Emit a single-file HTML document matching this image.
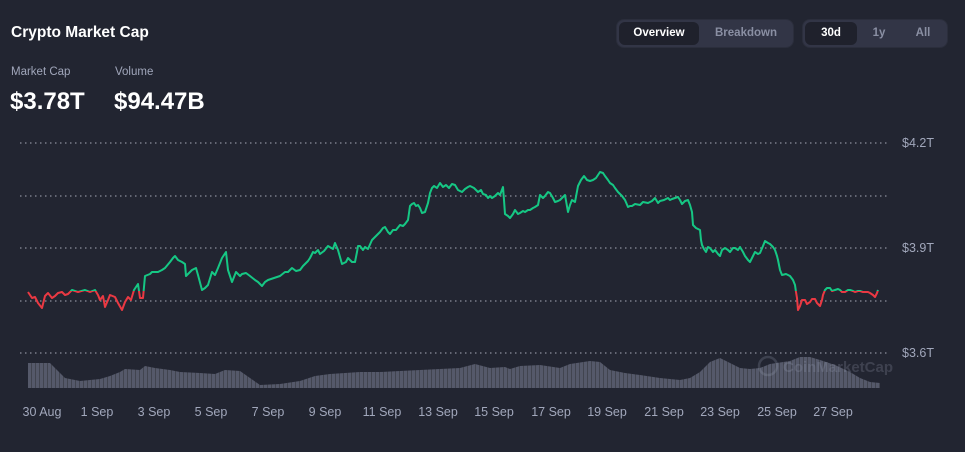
<!DOCTYPE html>
<html><head><meta charset="utf-8"><style>
body{margin:0;width:965px;height:452px;background:#222531;font-family:"Liberation Sans",sans-serif;overflow:hidden;position:relative;color:#fff}
.t{position:absolute;white-space:nowrap}
.grp{position:absolute;top:19px;height:29px;background:#323546;border-radius:8px;border:1px solid #2b2e3c;box-sizing:border-box}
.btn{position:absolute;top:2px;height:23px;line-height:23px;font-size:11.5px;font-weight:bold;text-align:center;color:#8a8fa3;border-radius:6px}
.on{background:#1f212c;color:#fff}
</style></head><body>
<div class="t" style="left:11px;top:24px;font-size:15.5px;font-weight:bold">Crypto Market Cap</div>
<div class="t" style="left:11px;top:66px;font-size:11.5px;color:#a1a7bb">Market Cap</div>
<div class="t" style="left:115px;top:66px;font-size:11.5px;color:#a1a7bb">Volume</div>
<div class="t" style="left:10px;top:88px;font-size:24px;font-weight:bold">$3.78T</div>
<div class="t" style="left:114px;top:88px;font-size:24px;font-weight:bold">$94.47B</div>
<div class="grp" style="left:616px;width:178px">
<div class="btn on" style="left:2px;width:80px">Overview</div>
<div class="btn" style="left:84px;width:90px">Breakdown</div></div>
<div class="grp" style="left:802px;width:146px">
<div class="btn on" style="left:2px;width:52px">30d</div>
<div class="btn" style="left:54px;width:44px">1y</div>
<div class="btn" style="left:98px;width:44px">All</div></div>
<svg width="965" height="452" style="position:absolute;left:0;top:0">
<defs>
<clipPath id="g"><rect x="0" y="0" width="965" height="291"/></clipPath>
<clipPath id="r"><rect x="0" y="291" width="965" height="200"/></clipPath>
<pattern id="st" width="4" height="10" patternUnits="userSpaceOnUse"><rect width="3" height="10" fill="#55596a"/><rect x="3" width="1" height="10" fill="#41444f"/></pattern>
</defs>
<g stroke="#8b8f9c" stroke-width="1.2" stroke-dasharray="1.5 3.5">
<line x1="20" x2="888" y1="143" y2="143"/><line x1="20" x2="888" y1="196" y2="196"/><line x1="20" x2="888" y1="248" y2="248"/><line x1="20" x2="888" y1="301" y2="301"/><line x1="20" x2="888" y1="353" y2="353"/></g>
<g font-size="12.5" fill="#a1a7bb" font-family="Liberation Sans,sans-serif">
<text x="902" y="147">$4.2T</text><text x="902" y="252">$3.9T</text><text x="902" y="357">$3.6T</text></g>
<polygon fill="url(#st)" points="28,388 28,363 50,363 55,368 65,378 80,381 100,379 110,376 120,372 125,369 140,370 145,366 155,368 170,370 180,372 200,373 215,374 225,370 240,371 250,378 260,385 280,384 300,381 315,376 330,374 345,373 360,372 380,372 400,371 420,370 440,369 460,368 475,364 490,368 505,367 510,369 520,366 540,365 560,368 570,364 590,361 600,362 610,370 625,373 640,375 660,378 680,380 690,378 700,372 710,362 720,358 730,363 740,368 750,369 760,368 770,364 790,361 800,357 810,357 820,360 835,365 850,372 860,378 870,382 880,383 880,388"/>
<g opacity="0.22" fill="none" stroke="#a1a7bb"><circle cx="768" cy="366" r="9" stroke-width="2.5"/></g>
<text x="783" y="372" font-size="15" font-weight="bold" fill="#a1a7bb" opacity="0.22" font-family="Liberation Sans,sans-serif">CoinMarketCap</text>
<g id="ln"><polyline fill="none" stroke-width="2" stroke-linejoin="round" points="28,292 32,298 35,297 38,303 42,308 45,296 48,293 52,298 55,296 58,293 62,292 65,295 68,294 72,290 78,292 85,290 90,292 95,290 98,295 100,300 103,296 105,307 108,300 110,295 115,297 118,303 122,310 125,302 128,297 131,300 134,290 138,284 140,298 143,298 145,276 150,274 152,272 158,272 162,270 165,268 170,262 173,258 175,256 178,260 182,262 185,264 186,276 190,272 192,270 196,268 198,275 202,290 205,288 208,285 212,272 215,275 218,268 222,258 226,252 228,270 232,282 236,272 240,276 242,274 246,273 250,276 255,280 258,282 262,286 265,282 268,280 274,278 280,276 285,272 288,272 292,268 296,271 300,270 303,266 305,264 308,261 310,258 313,252 315,253 318,250 320,254 324,251 328,246 333,249 335,243 338,250 342,264 346,262 348,258 352,262 355,262 357,252 358,246 360,246 363,250 365,247 368,249 372,240 376,236 380,232 383,228 385,227 388,232 390,234 393,230 396,230 400,225 403,226 405,224 408,220 410,206 412,204 414,203 416,206 418,205 420,208 422,213 425,212 428,203 430,193 432,188 434,186 437,188 440,183 443,187 446,185 449,188 452,184 455,185 458,190 462,192 465,189 468,187 470,186 474,188 478,192 481,190 483,194 486,195 488,198 490,196 492,198 495,196 498,193 500,195 503,187 504,200 505,214 508,216 510,218 513,214 515,210 518,214 520,213 523,211 525,212 528,210 530,210 533,208 535,207 538,205 540,195 543,198 545,196 548,192 550,193 553,198 555,202 558,201 560,200 563,197 565,195 568,212 570,205 572,200 575,202 578,186 581,180 584,176 587,180 590,181 593,180 596,178 598,175 600,172 603,173 605,176 608,180 610,183 613,185 615,188 618,192 620,194 622,196 625,200 628,207 630,206 632,206 635,204 640,205 643,202 648,203 652,201 655,198 658,203 660,201 664,200 668,198 670,200 672,199 675,198 678,197 680,200 682,204 685,201 688,200 690,205 692,212 693,225 696,228 700,230 701,240 702,245 704,249 706,252 708,247 710,248 713,252 715,250 718,254 720,256 722,250 725,248 728,250 730,252 733,248 735,248 738,250 740,247 743,252 745,256 748,260 750,262 753,256 755,252 758,254 760,253 763,246 765,241 768,243 770,244 773,247 775,250 777,256 778,260 780,270 782,275 786,274 790,276 793,280 795,285 796,292 797,298 798,310 800,306 802,300 805,300 807,304 810,302 812,299 815,299 817,303 820,306 822,300 823,295 825,290 827,288 830,288 832,291 835,290 838,289 840,290 842,292 845,292 848,290 850,290 853,291 855,292 858,291 860,291 863,292 865,292 868,292 870,293 873,295 875,297 877,293 878,290"/></g>
<use href="#ln" stroke="#16c784" clip-path="url(#g)"/>
<use href="#ln" stroke="#ea3943" clip-path="url(#r)"/>
<g font-size="12.5" fill="#a1a7bb" text-anchor="middle" font-family="Liberation Sans,sans-serif">
<text x="42" y="416">30 Aug</text><text x="97" y="416">1 Sep</text><text x="154" y="416">3 Sep</text><text x="211" y="416">5 Sep</text><text x="268" y="416">7 Sep</text><text x="325" y="416">9 Sep</text><text x="382" y="416">11 Sep</text><text x="438" y="416">13 Sep</text><text x="494" y="416">15 Sep</text><text x="551" y="416">17 Sep</text><text x="607" y="416">19 Sep</text><text x="664" y="416">21 Sep</text><text x="720" y="416">23 Sep</text><text x="777" y="416">25 Sep</text><text x="833" y="416">27 Sep</text></g>
</svg>
</body></html>
